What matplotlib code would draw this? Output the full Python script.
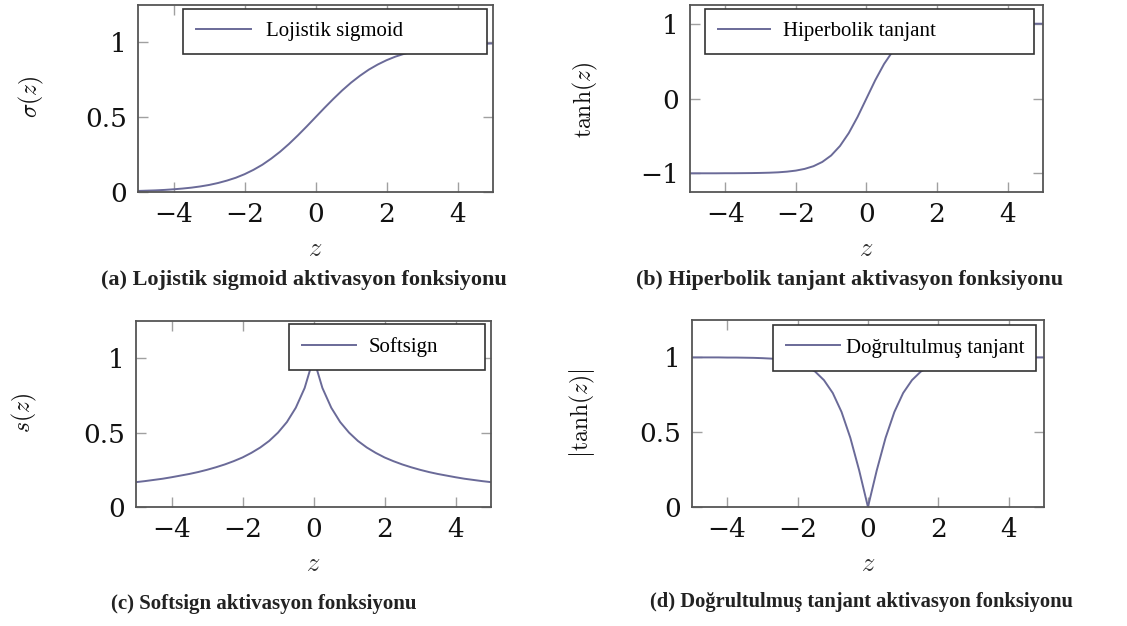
import numpy as np
import matplotlib
matplotlib.use("Agg")
import matplotlib.pyplot as plt

plt.rcParams['mathtext.fontset'] = 'cm'

# sample points (z from -5 to 5, step 0.25)
z = [-5.0, -4.75, -4.5, -4.25, -4.0, -3.75, -3.5, -3.25, -3.0, -2.75, -2.5,
     -2.25, -2.0, -1.75, -1.5, -1.25, -1.0, -0.75, -0.5, -0.25, 0.0,
     0.25, 0.5, 0.75, 1.0, 1.25, 1.5, 1.75, 2.0, 2.25, 2.5,
     2.75, 3.0, 3.25, 3.5, 3.75, 4.0, 4.25, 4.5, 4.75, 5.0]

sigmoid_vals = [0.007, 0.009, 0.011, 0.014, 0.018, 0.023, 0.029, 0.037, 0.047, 0.060, 0.076,
                0.095, 0.119, 0.148, 0.182, 0.223, 0.269, 0.321, 0.378, 0.438, 0.500,
                0.562, 0.622, 0.679, 0.731, 0.777, 0.818, 0.852, 0.881, 0.905, 0.924,
                0.940, 0.953, 0.963, 0.971, 0.977, 0.982, 0.986, 0.989, 0.991, 0.993]

tanh_vals = [-1.000, -1.000, -1.000, -1.000, -0.999, -0.999, -0.998, -0.997, -0.995, -0.992, -0.987,
             -0.978, -0.964, -0.941, -0.905, -0.848, -0.762, -0.635, -0.462, -0.245, 0.000,
             0.245, 0.462, 0.635, 0.762, 0.848, 0.905, 0.941, 0.964, 0.978, 0.987,
             0.992, 0.995, 0.997, 0.998, 0.999, 0.999, 1.000, 1.000, 1.000, 1.000]

softsign_vals = [0.167, 0.174, 0.182, 0.190, 0.200, 0.211, 0.222, 0.235, 0.250, 0.267, 0.286,
                 0.308, 0.333, 0.364, 0.400, 0.444, 0.500, 0.571, 0.667, 0.800, 1.000,
                 0.800, 0.667, 0.571, 0.500, 0.444, 0.400, 0.364, 0.333, 0.308, 0.286,
                 0.267, 0.250, 0.235, 0.222, 0.211, 0.200, 0.190, 0.182, 0.174, 0.167]

abs_tanh_vals = [1.000, 1.000, 1.000, 1.000, 0.999, 0.999, 0.998, 0.997, 0.995, 0.992, 0.987,
                 0.978, 0.964, 0.941, 0.905, 0.848, 0.762, 0.635, 0.462, 0.245, 0.000,
                 0.245, 0.462, 0.635, 0.762, 0.848, 0.905, 0.941, 0.964, 0.978, 0.987,
                 0.992, 0.995, 0.997, 0.998, 0.999, 0.999, 1.000, 1.000, 1.000, 1.000]

legend_labels = ['Lojistik sigmoid', 'Hiperbolik tanjant', 'Softsign', 'Doğrultulmuş tanjant']
ylabels = [r'$\sigma(z)$', r'$\tanh(z)$', r'$s(z)$', r'$\left|\tanh(z)\right|$']
captions = ['(a) Lojistik sigmoid aktivasyon fonksiyonu',
            '(b) Hiperbolik tanjant aktivasyon fonksiyonu',
            '(c) Softsign aktivasyon fonksiyonu',
            '(d) Doğrultulmuş tanjant aktivasyon fonksiyonu']
xticks = [-4, -2, 0, 2, 4]
xtick_labels = ['\u22124', '\u22122', '0', '2', '4']
yticks = [[0, 0.5, 1], [-1, 0, 1], [0, 0.5, 1], [0, 0.5, 1]]
ytick_labels = [['0', '0.5', '1'], ['\u22121', '0', '1'], ['0', '0.5', '1'], ['0', '0.5', '1']]
ylims = [(0, 1.25), (-1.25, 1.25), (0, 1.25), (0, 1.25)]
series = [sigmoid_vals, tanh_vals, softsign_vals, abs_tanh_vals]

line_color = '#6a6a98'

fig = plt.figure(figsize=(11.27, 6.26), dpi=100)

# axes rectangles in figure fractions
rects = [[0.1225, 0.6933, 0.3150, 0.2987],
         [0.6122, 0.6933, 0.3132, 0.2987],
         [0.1207, 0.1901, 0.3150, 0.2971],
         [0.6140, 0.1901, 0.3123, 0.2987]]
# legend boxes (x0, y0, width, height) in axes fractions
leg_boxes = [(0.127, 0.743, 0.856, 0.236),
             (0.042, 0.743, 0.932, 0.236),
             (0.431, 0.742, 0.552, 0.242),
             (0.230, 0.736, 0.747, 0.236)]
leg_handle = [2.65, 2.5, 2.6, 2.6]
leg_gap = [0.72, 0.62, 0.58, 0.3]
ylabel_pos = [(-0.301, 0.508), (-0.297, 0.49), (-0.313, 0.505), (-0.3125, 0.50)]
caption_pos = [(304, 280), (850, 280), (264, 604), (861, 602)]
caption_size = [16, 15.8, 15, 14.8]

for i in range(4):
    ax = fig.add_axes(rects[i])
    ax.plot(z, series[i], color=line_color, linewidth=1.4, label=legend_labels[i])
    ax.set_xlim(-5, 5)
    ax.set_ylim(*ylims[i])
    ax.set_xticks(xticks)
    ax.set_xticklabels(xtick_labels)
    ax.set_yticks(yticks[i])
    ax.set_yticklabels(ytick_labels[i])
    ax.tick_params(direction='in', length=7, width=1, color='#a0a0a0',
                   top=True, right=True, labelsize=19, labelfontfamily='DejaVu Serif',
                   labelcolor='#111111')
    ax.tick_params(axis='x', pad=7)
    ax.tick_params(axis='y', pad=8)
    for sp in ax.spines.values():
        sp.set_color('#555555')
        sp.set_linewidth(1.3)

    ax.set_xlabel(r'$z$', fontsize=19, va='center', color='#333333')
    ax.xaxis.set_label_coords(0.5, -0.305)
    ax.set_ylabel(ylabels[i], fontsize=17, va='center', color='#111111')
    ax.yaxis.set_label_coords(*ylabel_pos[i])

    leg = ax.legend(loc='upper left', bbox_to_anchor=leg_boxes[i], mode='expand',
                    borderaxespad=0, fancybox=False, framealpha=1,
                    edgecolor='#333333', prop={'family': 'Liberation Serif', 'size': 15},
                    handlelength=leg_handle[i], handletextpad=leg_gap[i], borderpad=0.62)
    leg.get_frame().set_linewidth(1.2)

    cx, cy = caption_pos[i]
    fig.text(cx / 1127, 1 - cy / 626, captions[i], ha='center', va='center',
             fontsize=caption_size[i], fontweight='bold', family='Liberation Serif',
             color='#222222')

fig.savefig('out.png', dpi=100, facecolor='white')
